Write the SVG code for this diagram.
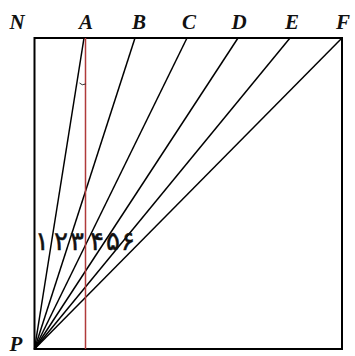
<svg xmlns="http://www.w3.org/2000/svg" width="355" height="356" viewBox="0 0 355 356">
<style>
.lbl{font-family:"Liberation Serif","DejaVu Serif",serif;font-style:italic;font-weight:bold;font-size:21px;fill:#111;text-anchor:middle}
.num{font-family:"DejaVu Sans",sans-serif;font-size:26px;fill:#111;stroke:#111;stroke-width:0.5;text-anchor:middle}
.ray{stroke:#000;stroke-width:1.5;fill:none}
</style>
<rect width="355" height="356" fill="#fff"/>
<g id="square"><rect x="34.5" y="38" width="307.5" height="311" fill="none" stroke="#000" stroke-width="2"/></g>
<g id="connectors">
<line class="ray" x1="34.5" y1="349" x2="84" y2="38"/>
<line class="ray" x1="34.5" y1="349" x2="135" y2="38"/>
<line class="ray" x1="34.5" y1="349" x2="187" y2="38"/>
<line class="ray" x1="34.5" y1="349" x2="238" y2="38"/>
<line class="ray" x1="34.5" y1="349" x2="290" y2="38"/>
<line class="ray" x1="34.5" y1="349" x2="342" y2="38"/>
<line x1="85.5" y1="38" x2="85.5" y2="349" stroke="#b03a3a" stroke-width="1.5"/>
<path d="M79.5,83 Q82,86 85.5,84" fill="none" stroke="#000" stroke-width="0.8"/>
</g>
<g id="labels">
<text class="lbl" x="17" y="29">N</text>
<text class="lbl" x="86" y="29">A</text>
<text class="lbl" x="139" y="29">B</text>
<text class="lbl" x="189" y="29">C</text>
<text class="lbl" x="239" y="29">D</text>
<text class="lbl" x="292" y="29">E</text>
<text class="lbl" x="343" y="29">F</text>
<text class="lbl" x="16" y="351">P</text>
</g>
<g id="numbers">
<text class="num" x="42" y="250">۱</text>
<text class="num" x="61" y="250">۲</text>
<text class="num" x="77" y="250">۳</text>
<text class="num" x="97" y="250">۴</text>
<text class="num" x="113" y="250">۵</text>
<text class="num" x="128" y="250">۶</text>
</g>
</svg>
